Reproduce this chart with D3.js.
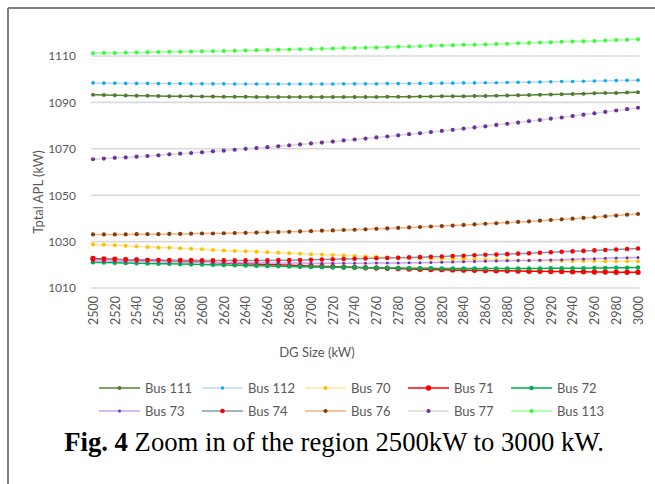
<!DOCTYPE html>
<html>
<head>
<meta charset="utf-8">
<script src="https://cdn.jsdelivr.net/npm/d3@7"></script>
<style>
  html, body { margin: 0; padding: 0; background: #fff; }
  svg { display: block; }
</style>
</head>
<body>
<div id="chart"></div>
<script>
// DG size categories (kW), one point every 10 kW.
var sizes = [2500, 2510, 2520, 2530, 2540, 2550, 2560, 2570, 2580, 2590,
             2600, 2610, 2620, 2630, 2640, 2650, 2660, 2670, 2680, 2690,
             2700, 2710, 2720, 2730, 2740, 2750, 2760, 2770, 2780, 2790,
             2800, 2810, 2820, 2830, 2840, 2850, 2860, 2870, 2880, 2890,
             2900, 2910, 2920, 2930, 2940, 2950, 2960, 2970, 2980, 2990, 3000];

var xTickLabels = [2500, 2520, 2540, 2560, 2580, 2600, 2620, 2640, 2660, 2680,
                   2700, 2720, 2740, 2760, 2780, 2800, 2820, 2840, 2860, 2880,
                   2900, 2920, 2940, 2960, 2980, 3000];
var yTickLabels = [1010, 1030, 1050, 1070, 1090, 1110];

var bus111 = [1093.3, 1093.2, 1093.1, 1093.0, 1092.9, 1092.9, 1092.8, 1092.7, 1092.6, 1092.6,
              1092.5, 1092.5, 1092.4, 1092.4, 1092.4, 1092.3, 1092.3, 1092.3, 1092.3, 1092.3,
              1092.3, 1092.3, 1092.3, 1092.3, 1092.3, 1092.3, 1092.3, 1092.4, 1092.4, 1092.4,
              1092.5, 1092.5, 1092.6, 1092.6, 1092.7, 1092.8, 1092.8, 1092.9, 1093.0, 1093.1,
              1093.2, 1093.3, 1093.4, 1093.5, 1093.6, 1093.7, 1093.9, 1094.0, 1094.1, 1094.3, 1094.4];
var bus112 = [1098.4, 1098.3, 1098.3, 1098.2, 1098.2, 1098.2, 1098.1, 1098.1, 1098.1, 1098.0,
              1098.0, 1098.0, 1098.0, 1097.9, 1097.9, 1097.9, 1097.9, 1097.9, 1097.9, 1097.9,
              1097.9, 1097.9, 1097.9, 1098.0, 1098.0, 1098.0, 1098.0, 1098.1, 1098.1, 1098.1,
              1098.2, 1098.2, 1098.3, 1098.3, 1098.4, 1098.4, 1098.5, 1098.5, 1098.6, 1098.7,
              1098.7, 1098.8, 1098.9, 1099.0, 1099.0, 1099.1, 1099.2, 1099.3, 1099.4, 1099.5, 1099.6];
var bus70 = [1028.8, 1028.6, 1028.4, 1028.2, 1027.9, 1027.7, 1027.5, 1027.3, 1027.1, 1026.9,
             1026.7, 1026.4, 1026.2, 1026.0, 1025.8, 1025.6, 1025.4, 1025.2, 1025.0, 1024.8,
             1024.6, 1024.4, 1024.2, 1024.0, 1023.8, 1023.6, 1023.5, 1023.3, 1023.2, 1023.0,
             1022.9, 1022.7, 1022.6, 1022.5, 1022.4, 1022.3, 1022.2, 1022.1, 1022.0, 1021.9,
             1021.9, 1021.8, 1021.7, 1021.7, 1021.6, 1021.6, 1021.6, 1021.5, 1021.5, 1021.5, 1021.5];
var bus71 = [1022.7, 1022.5, 1022.4, 1022.2, 1022.1, 1021.9, 1021.8, 1021.6, 1021.5, 1021.3,
             1021.2, 1021.0, 1020.8, 1020.6, 1020.5, 1020.3, 1020.1, 1020.0, 1019.8, 1019.6,
             1019.5, 1019.3, 1019.2, 1019.0, 1018.9, 1018.7, 1018.6, 1018.5, 1018.4, 1018.2,
             1018.1, 1018.0, 1017.9, 1017.8, 1017.7, 1017.6, 1017.5, 1017.4, 1017.4, 1017.3,
             1017.2, 1017.2, 1017.1, 1017.1, 1017.0, 1017.0, 1016.9, 1016.9, 1016.8, 1016.8, 1016.8];
var bus72 = [1021.1, 1021.0, 1020.9, 1020.8, 1020.7, 1020.6, 1020.5, 1020.4, 1020.3, 1020.2,
             1020.1, 1020.0, 1019.9, 1019.8, 1019.7, 1019.6, 1019.5, 1019.4, 1019.3, 1019.2,
             1019.1, 1019.0, 1018.9, 1018.9, 1018.8, 1018.7, 1018.7, 1018.6, 1018.6, 1018.5,
             1018.5, 1018.5, 1018.4, 1018.4, 1018.4, 1018.4, 1018.4, 1018.4, 1018.4, 1018.4,
             1018.4, 1018.4, 1018.5, 1018.5, 1018.5, 1018.5, 1018.6, 1018.6, 1018.7, 1018.7, 1018.8];
var bus73 = [1021.6, 1021.5, 1021.5, 1021.4, 1021.4, 1021.3, 1021.3, 1021.2, 1021.2, 1021.1,
             1021.1, 1021.0, 1021.0, 1020.9, 1020.9, 1020.9, 1020.8, 1020.8, 1020.8, 1020.8,
             1020.7, 1020.7, 1020.7, 1020.7, 1020.7, 1020.7, 1020.8, 1020.8, 1020.8, 1020.9,
             1020.9, 1021.0, 1021.1, 1021.2, 1021.3, 1021.4, 1021.5, 1021.6, 1021.7, 1021.8,
             1021.9, 1022.0, 1022.1, 1022.2, 1022.4, 1022.5, 1022.6, 1022.8, 1022.9, 1023.0, 1023.2];
var bus74 = [1022.4, 1022.3, 1022.3, 1022.2, 1022.2, 1022.1, 1022.1, 1022.0, 1022.0, 1022.0,
             1021.9, 1021.9, 1021.9, 1021.9, 1021.9, 1021.9, 1021.9, 1022.0, 1022.0, 1022.1,
             1022.2, 1022.3, 1022.4, 1022.5, 1022.6, 1022.7, 1022.8, 1022.9, 1023.0, 1023.2,
             1023.3, 1023.5, 1023.6, 1023.8, 1023.9, 1024.1, 1024.3, 1024.4, 1024.6, 1024.8,
             1025.0, 1025.2, 1025.4, 1025.6, 1025.8, 1026.0, 1026.2, 1026.4, 1026.6, 1026.8, 1027.0];
var bus76 = [1033.1, 1033.1, 1033.1, 1033.1, 1033.2, 1033.2, 1033.2, 1033.3, 1033.3, 1033.4,
             1033.5, 1033.5, 1033.6, 1033.7, 1033.8, 1033.9, 1034.0, 1034.1, 1034.2, 1034.4,
             1034.5, 1034.7, 1034.8, 1035.0, 1035.1, 1035.3, 1035.5, 1035.7, 1035.9, 1036.1,
             1036.3, 1036.5, 1036.7, 1036.9, 1037.2, 1037.4, 1037.7, 1037.9, 1038.2, 1038.5,
             1038.7, 1039.0, 1039.3, 1039.6, 1039.9, 1040.2, 1040.5, 1040.9, 1041.2, 1041.6, 1041.9];
var bus77 = [1065.5, 1065.8, 1066.1, 1066.3, 1066.6, 1066.9, 1067.2, 1067.6, 1067.9, 1068.2,
             1068.5, 1068.9, 1069.2, 1069.6, 1070.0, 1070.3, 1070.7, 1071.1, 1071.5, 1071.9,
             1072.3, 1072.7, 1073.1, 1073.6, 1074.0, 1074.4, 1074.9, 1075.3, 1075.8, 1076.3,
             1076.7, 1077.2, 1077.7, 1078.2, 1078.7, 1079.2, 1079.7, 1080.3, 1080.8, 1081.3,
             1081.9, 1082.4, 1083.0, 1083.5, 1084.1, 1084.7, 1085.3, 1085.9, 1086.5, 1087.1, 1087.7];
var bus113 = [1111.2, 1111.3, 1111.3, 1111.4, 1111.5, 1111.6, 1111.7, 1111.8, 1111.8, 1111.9,
              1112.0, 1112.1, 1112.2, 1112.3, 1112.4, 1112.5, 1112.6, 1112.7, 1112.8, 1112.9,
              1113.0, 1113.1, 1113.2, 1113.4, 1113.5, 1113.6, 1113.7, 1113.8, 1114.0, 1114.1,
              1114.2, 1114.4, 1114.5, 1114.6, 1114.8, 1114.9, 1115.0, 1115.2, 1115.3, 1115.5,
              1115.6, 1115.8, 1115.9, 1116.1, 1116.2, 1116.4, 1116.5, 1116.7, 1116.9, 1117.0, 1117.2];

var seriesNames = ["Bus 111", "Bus 112", "Bus 70", "Bus 71", "Bus 72",
                   "Bus 73", "Bus 74", "Bus 76", "Bus 77", "Bus 113"];
var seriesValues = [bus111, bus112, bus70, bus71, bus72, bus73, bus74, bus76, bus77, bus113];

// line colour, marker colour, marker radius
var styles = [
  { line: "#548235", mark: "#4f7a30", r: 2.0 },
  { line: "#bdd7ee", mark: "#00b0f0", r: 1.8 },
  { line: "#ffe699", mark: "#ffc000", r: 2.0 },
  { line: "#ff0000", mark: "#ff0000", r: 2.7 },
  { line: "#00b050", mark: "#00b050", r: 2.3 },
  { line: "#c9a5ea", mark: "#7030a0", r: 1.5 },
  { line: "#8497b0", mark: "#ff0000", r: 2.3 },
  { line: "#f4b183", mark: "#843c0c", r: 2.1 },
  { line: "#d9d9d9", mark: "#7030a0", r: 2.1 },
  { line: "#99ff99", mark: "#33ff33", r: 2.0 }
];

var W = 655, H = 484;
var FONT = "Lato, 'Open Sans', sans-serif";
var GREY = "#595959";

var svg = d3.select("#chart").append("svg")
  .attr("width", W)
  .attr("height", H);

// frame round the figure
svg.append("line").attr("x1", 8).attr("y1", 8).attr("x2", W).attr("y2", 8)
  .attr("stroke", "#808080").attr("stroke-width", 2);
svg.append("line").attr("x1", 8).attr("y1", 8).attr("x2", 8).attr("y2", H)
  .attr("stroke", "#808080").attr("stroke-width", 2);

var x = d3.scaleLinear().domain([2500, 3000]).range([93, 638]);
var y = d3.scaleLinear().domain([1010, 1120]).range([288, 32.8]);

// horizontal gridlines
svg.append("g").selectAll("line")
  .data(yTickLabels)
  .enter().append("line")
  .attr("x1", 91).attr("x2", 640)
  .attr("y1", function(d) { return y(d); })
  .attr("y2", function(d) { return y(d); })
  .attr("stroke", "#d9d9d9")
  .attr("stroke-width", 1.6);

// y axis labels
var yAxis = d3.axisLeft(y).tickValues(yTickLabels).tickSize(0).tickPadding(0)
  .tickFormat(d3.format("d"));
var gy = svg.append("g").attr("transform", "translate(76,0)").call(yAxis);
gy.select(".domain").remove();
gy.selectAll("text")
  .attr("font-family", FONT).attr("font-size", 12).attr("fill", GREY);

// x axis labels, rotated
var xAxis = d3.axisBottom(x).tickValues(xTickLabels).tickSize(0).tickFormat(d3.format("d"));
var gx = svg.append("g").attr("transform", "translate(0,296)").call(xAxis);
gx.select(".domain").remove();
gx.selectAll("text")
  .attr("font-family", FONT).attr("font-size", 12.5).attr("fill", GREY)
  .attr("text-anchor", "end")
  .attr("dy", "0.35em")
  .attr("transform", "rotate(-90)")
  .attr("x", 0).attr("y", 0);

// series: line then markers
var line = d3.line()
  .x(function(d, i) { return x(sizes[i]); })
  .y(function(d) { return y(d); });

seriesValues.forEach(function(vals, k) {
  var st = styles[k];
  var g = svg.append("g").attr("class", "series");
  g.append("path")
    .attr("d", line(vals))
    .attr("fill", "none")
    .attr("stroke", st.line)
    .attr("stroke-width", 1.5);
  g.selectAll("circle")
    .data(vals)
    .enter().append("circle")
    .attr("cx", function(d, i) { return x(sizes[i]); })
    .attr("cy", function(d) { return y(d); })
    .attr("r", st.r)
    .attr("fill", st.mark);
});

// axis titles
svg.append("text")
  .attr("transform", "translate(38,192) rotate(-90)")
  .attr("text-anchor", "middle")
  .attr("dy", "0.35em")
  .attr("font-family", FONT).attr("font-size", 13).attr("fill", GREY)
  .text("Tptal APL (kW)");

svg.append("text")
  .attr("x", 317).attr("y", 352)
  .attr("text-anchor", "middle")
  .attr("dy", "0.35em")
  .attr("font-family", FONT).attr("font-size", 13).attr("fill", GREY)
  .text("DG Size (kW)");

// legend, 5 per row
var legend = svg.append("g").selectAll("g")
  .data(seriesNames)
  .enter().append("g")
  .attr("transform", function(d, i) {
    return "translate(" + (99 + 103 * (i % 5)) + "," + (388 + 23 * Math.floor(i / 5)) + ")";
  });
legend.append("line")
  .attr("x1", 0).attr("x2", 41).attr("y1", 0).attr("y2", 0)
  .attr("stroke", function(d, i) { return styles[i].line; })
  .attr("stroke-width", 1.5);
legend.append("circle")
  .attr("cx", 20.5).attr("cy", 0)
  .attr("r", function(d, i) { return styles[i].r; })
  .attr("fill", function(d, i) { return styles[i].mark; });
legend.append("text")
  .attr("x", 46).attr("y", 0).attr("dy", "0.35em")
  .attr("font-family", FONT).attr("font-size", 13).attr("fill", GREY)
  .text(function(d) { return d; });

// caption below the chart, sized to span the same width as the original
var cap = svg.append("text")
  .attr("x", 334).attr("y", 451)
  .attr("text-anchor", "middle")
  .attr("font-family", "'Liberation Serif', 'Times New Roman', serif")
  .attr("font-size", 20).attr("fill", "#000");
cap.append("tspan").attr("font-weight", "bold").text("Fig. 4");
cap.append("tspan").text(" Zoom in of the region 2500kW to 3000 kW.");
var capW = cap.node().getComputedTextLength();
cap.attr("font-size", 20 * 540 / capW);
</script>
</body>
</html>
